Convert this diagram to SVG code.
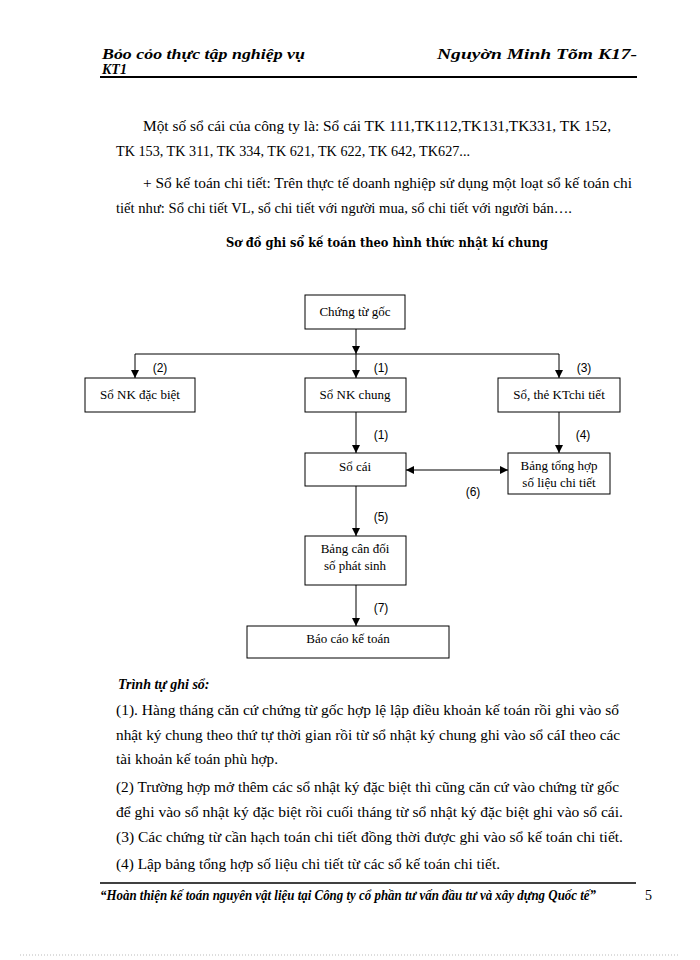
<svg xmlns="http://www.w3.org/2000/svg" width="700" height="960" viewBox="0 0 700 960">
<defs>
<marker id="ah" viewBox="0 0 10 10" refX="10" refY="5" markerWidth="8" markerHeight="8" markerUnits="userSpaceOnUse" orient="auto-start-reverse"><path d="M0,0 L10,5 L0,10 z" fill="#000"/></marker>
<style>
.body{font-family:"Liberation Serif",serif;font-size:14px;fill:#000}
.hdr{font-family:"Liberation Serif",serif;font-size:14px;font-weight:bold;font-style:italic;fill:#000}
.box{fill:#fff;stroke:#000;stroke-width:1}
.bt{font-family:"Liberation Serif",serif;font-size:13px;fill:#000;text-anchor:middle}
.lbl{font-family:"Liberation Sans",sans-serif;font-size:12px;fill:#000;text-anchor:middle}
.ln{stroke:#000;stroke-width:1;fill:none}
</style>
</defs>
<rect width="700" height="960" fill="#fff"/>
<!-- header -->
<text class="hdr" x="102" y="59" textLength="203" lengthAdjust="spacingAndGlyphs">Bỏo cỏo thực tập nghiệp vụ</text>
<text class="hdr" x="102" y="74" font-size="13">KT1</text>
<text class="hdr" x="437" y="59" textLength="200" lengthAdjust="spacingAndGlyphs">Nguyờn Minh Tõm K17-</text>
<line x1="100" y1="77" x2="637" y2="77" stroke="#000" stroke-width="2"/>
<!-- paragraphs -->
<text class="body" x="143" y="131" textLength="468" lengthAdjust="spacingAndGlyphs">Một số sổ cái của công ty là: Sổ cái TK 111,TK112,TK131,TK331,  TK 152,</text>
<text class="body" x="116" y="156" textLength="354" lengthAdjust="spacingAndGlyphs">TK 153, TK 311, TK 334, TK 621, TK 622, TK 642, TK627...</text>
<text class="body" x="143" y="188" textLength="489" lengthAdjust="spacingAndGlyphs">+ Sổ kế toán chi tiết: Trên thực tế doanh nghiệp sử dụng một loạt sổ kế toán chi</text>
<text class="body" x="116" y="213" textLength="456" lengthAdjust="spacingAndGlyphs">tiết như: Sổ chi tiết VL, sổ chi tiết với người mua, sổ chi tiết với người bán….</text>
<text x="226" y="247" font-family="'DejaVu Serif','Liberation Serif',serif" font-size="12.5" font-weight="bold" textLength="322" lengthAdjust="spacingAndGlyphs">Sơ đồ ghi sổ kế toán theo hình thức nhật kí chung</text>
<!-- connectors -->
<g id="connectors">
<line class="ln" x1="356" y1="329" x2="356" y2="354" marker-end="url(#ah)"/>
<line class="ln" x1="135" y1="354" x2="559" y2="354"/>
<line class="ln" x1="135" y1="354" x2="135" y2="378" marker-end="url(#ah)"/>
<line class="ln" x1="356" y1="354" x2="356" y2="378" marker-end="url(#ah)"/>
<line class="ln" x1="559" y1="354" x2="559" y2="378" marker-end="url(#ah)"/>
<line class="ln" x1="356" y1="412" x2="356" y2="453" marker-end="url(#ah)"/>
<line class="ln" x1="559" y1="412" x2="559" y2="453" marker-end="url(#ah)"/>
<line class="ln" x1="406" y1="470" x2="508" y2="470" marker-start="url(#ah)" marker-end="url(#ah)"/>
<line class="ln" x1="356" y1="486" x2="356" y2="536" marker-end="url(#ah)"/>
<line class="ln" x1="356" y1="585" x2="356" y2="626" marker-end="url(#ah)"/>
<text class="lbl" x="160" y="372">(2)</text>
<text class="lbl" x="381" y="372">(1)</text>
<text class="lbl" x="584" y="372">(3)</text>
<text class="lbl" x="381" y="439">(1)</text>
<text class="lbl" x="583" y="439">(4)</text>
<text class="lbl" x="473" y="496">(6)</text>
<text class="lbl" x="381" y="521">(5)</text>
<text class="lbl" x="381" y="612">(7)</text>
</g>
<!-- nodes -->
<g id="n-chungtugoc"><rect class="box" x="305" y="295" width="100" height="34"/><text class="bt" x="355" y="316">Chứng từ gốc</text></g>
<g id="n-nkdacbiet"><rect class="box" x="85" y="378" width="110" height="34"/><text class="bt" x="140" y="399">Sổ NK đặc biệt</text></g>
<g id="n-nkchung"><rect class="box" x="305" y="378" width="101" height="34"/><text class="bt" x="355" y="399">Sổ NK chung</text></g>
<g id="n-sothe"><rect class="box" x="498" y="378" width="122" height="34"/><text class="bt" x="559" y="399">Sổ, thẻ KTchi tiết</text></g>
<g id="n-socai"><rect class="box" x="305" y="453" width="101" height="33"/><text class="bt" x="355" y="471">Sổ cái</text></g>
<g id="n-bangtonghop"><rect class="box" x="508" y="453" width="102" height="41"/><text class="bt" x="559" y="470">Bảng tổng hợp</text><text class="bt" x="559" y="487">số liệu chi tiết</text></g>
<g id="n-bangcandoi"><rect class="box" x="305" y="536" width="101" height="49"/><text class="bt" x="355" y="553">Bảng cân đối</text><text class="bt" x="355" y="570">số phát sinh</text></g>
<g id="n-baocao"><rect class="box" x="247" y="626" width="202" height="32"/><text class="bt" x="348" y="643">Báo cáo kế toán</text></g>
<!-- bottom text -->
<text x="118" y="689" font-family="'Liberation Serif',serif" font-size="14" font-weight="bold" font-style="italic">Trình tự ghi sổ:</text>
<text class="body" x="116" y="715" textLength="503" lengthAdjust="spacingAndGlyphs">(1). Hàng tháng căn cứ chứng từ gốc hợp lệ lập điều khoản kế toán rồi ghi vào sổ</text>
<text class="body" x="116" y="740" textLength="504" lengthAdjust="spacingAndGlyphs">nhật ký chung theo thứ tự thời gian rồi từ sổ nhật ký chung ghi vào sổ cáI theo các</text>
<text class="body" x="116" y="764" textLength="162" lengthAdjust="spacingAndGlyphs">tài khoản kế toán phù hợp.</text>
<text class="body" x="116" y="792" textLength="503" lengthAdjust="spacingAndGlyphs">(2) Trường hợp mở thêm các sổ nhật ký đặc biệt thì cũng căn cứ vào chứng từ gốc</text>
<text class="body" x="116" y="817" textLength="507" lengthAdjust="spacingAndGlyphs">để ghi vào sổ nhật ký đặc biệt rồi cuối tháng từ sổ nhật ký đặc biệt ghi vào sổ cái.</text>
<text class="body" x="116" y="842" textLength="507" lengthAdjust="spacingAndGlyphs">(3) Các chứng từ cần hạch toán chi tiết đồng thời được ghi vào sổ kế toán chi tiết.</text>
<text class="body" x="116" y="869" textLength="384" lengthAdjust="spacingAndGlyphs">(4) Lập bảng tổng hợp số liệu chi tiết từ các sổ kế toán chi tiết.</text>
<line x1="100" y1="883" x2="636" y2="883" stroke="#000" stroke-width="1.5"/>
<text x="100" y="900" font-family="'Liberation Serif',serif" font-size="14" font-weight="bold" font-style="italic" textLength="496" lengthAdjust="spacingAndGlyphs">“Hoàn thiện kế toán nguyên vật liệu tại Công ty cổ phần tư vấn đầu tư và xây dựng Quốc tế”</text>
<text class="body" x="645" y="900">5</text>
<line x1="20" y1="955" x2="680" y2="955" stroke="#bbb" stroke-width="1" stroke-dasharray="1,2"/>
</svg>
